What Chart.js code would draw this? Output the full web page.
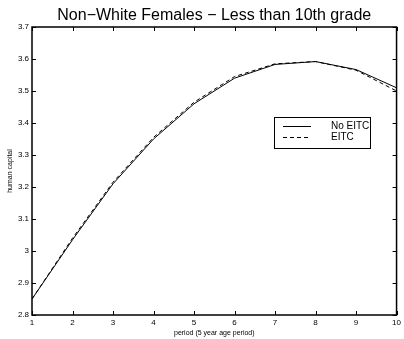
<!DOCTYPE html>
<html>
<head>
<meta charset="utf-8">
<script src="https://cdn.jsdelivr.net/npm/chart.js@4"></script>
<style>
  html, body { margin: 0; padding: 0; background: #fff; }
  #wrap { width: 404px; height: 339px; }
</style>
</head>
<body>
<div id="wrap"><canvas id="plotCanvas"></canvas></div>
<script>
// periods (5 year age period)
let periods = [1, 2, 3, 4, 5, 6, 7, 8, 9, 10];
// human capital
let noEitc = [2.85, 3.035, 3.21, 3.35, 3.46, 3.54, 3.583, 3.592, 3.567, 3.51];
let eitc = [2.85, 3.04, 3.215, 3.355, 3.465, 3.545, 3.585, 3.592, 3.565, 3.50];
let yTicks = [2.8, 2.9, 3, 3.1, 3.2, 3.3, 3.4, 3.5, 3.6, 3.7];

let titleText = "Non\u2212White Females \u2212 Less than 10th grade";
let font = "'Liberation Sans', Arial, Helvetica, sans-serif";

// matlab style frame: ticks pointing inward on all four sides, title, boxed legend
const matlabFrame = {
  id: "matlabFrame",
  afterDraw(chart) {
    const ctx = chart.ctx;
    const a = chart.chartArea;
    const xs = chart.scales.x;
    const ys = chart.scales.y;
    const len = 4;
    ctx.save();
    ctx.strokeStyle = "#000";
    ctx.lineWidth = 1;
    ctx.beginPath();
    periods.forEach(function (p) {
      const px = Math.round(xs.getPixelForValue(p)) + 0.5;
      ctx.moveTo(px, a.bottom);
      ctx.lineTo(px, a.bottom - len);
      ctx.moveTo(px, a.top);
      ctx.lineTo(px, a.top + len);
    });
    yTicks.forEach(function (v) {
      const py = Math.round(ys.getPixelForValue(v)) + 0.5;
      ctx.moveTo(a.left, py);
      ctx.lineTo(a.left + len, py);
      ctx.moveTo(a.right, py);
      ctx.lineTo(a.right - len, py);
    });
    ctx.stroke();
    ctx.lineWidth = 1.5;
    ctx.strokeRect(a.left, a.top, a.right - a.left, a.bottom - a.top);

    // title
    ctx.fillStyle = "#000";
    ctx.font = "16px " + font;
    ctx.textAlign = "center";
    ctx.textBaseline = "alphabetic";
    ctx.fillText(titleText, (a.left + a.right) / 2, 20);

    // legend
    const lx = 274, ly = 117, lw = 96, lh = 31;
    ctx.fillStyle = "#fff";
    ctx.fillRect(lx, ly, lw, lh);
    ctx.lineWidth = 1;
    ctx.strokeStyle = "#000";
    ctx.strokeRect(lx + 0.5, ly + 0.5, lw, lh);
    ctx.font = "10px " + font;
    ctx.textAlign = "left";
    ctx.textBaseline = "middle";
    chart.data.datasets.forEach(function (ds, i) {
      const yy = ly + 9 + i * 11;
      ctx.beginPath();
      ctx.setLineDash(ds.borderDash || []);
      ctx.moveTo(lx + 9, yy + 0.5);
      ctx.lineTo(lx + 37, yy + 0.5);
      ctx.stroke();
      ctx.setLineDash([]);
      ctx.fillStyle = "#000";
      ctx.fillText(ds.label, lx + 57, yy);
    });
    ctx.restore();
  },
};

function drawPlot() {
  const ctx = document.getElementById("plotCanvas").getContext("2d");
  return new Chart(ctx, {
    type: "line",
    data: {
      labels: periods,
      datasets: [
        {
          label: "No EITC",
          data: noEitc,
          borderColor: "#000",
          borderWidth: 1,
          pointRadius: 0,
          tension: 0,
        },
        {
          label: "EITC",
          data: eitc,
          borderColor: "#000",
          borderWidth: 1,
          borderDash: [4, 3],
          pointRadius: 0,
          tension: 0,
        },
      ],
    },
    options: {
      responsive: true,
      maintainAspectRatio: false,
      animation: false,
      layout: { padding: { top: 27, right: 5, left: 0, bottom: 0 } },
      plugins: {
        legend: { display: false },
        title: { display: false },
        tooltip: { enabled: false },
      },
      scales: {
        x: {
          type: "linear",
          min: 1,
          max: 10,
          grid: { display: false, drawTicks: false },
          border: { display: false },
          afterFit: function (s) { s.height = 24; },
          afterBuildTicks: function (s) {
            s.ticks = periods.map(function (v) { return { value: v }; });
          },
          ticks: {
            color: "#000",
            font: { size: 8, family: font },
            padding: 3,
            maxRotation: 0,
            autoSkip: false,
          },
          title: {
            display: true,
            text: "period (5 year age period)",
            color: "#000",
            font: { size: 7, family: font },
            padding: { top: 0, bottom: 2 },
          },
        },
        y: {
          min: 2.8,
          max: 3.7,
          grid: { display: false, drawTicks: false },
          border: { display: false },
          afterFit: function (s) { s.width = 32; },
          afterBuildTicks: function (s) {
            s.ticks = yTicks.map(function (v) { return { value: v }; });
          },
          ticks: {
            color: "#000",
            font: { size: 8, family: font },
            padding: 3,
            autoSkip: false,
            callback: function (v) { return String(Math.round(v * 10) / 10); },
          },
          title: {
            display: true,
            text: "human capital",
            color: "#000",
            font: { size: 7, family: font },
            padding: { top: 6, bottom: 0 },
          },
        },
      },
    },
    plugins: [matlabFrame],
  });
}

let chart = drawPlot();
</script>
</body>
</html>
